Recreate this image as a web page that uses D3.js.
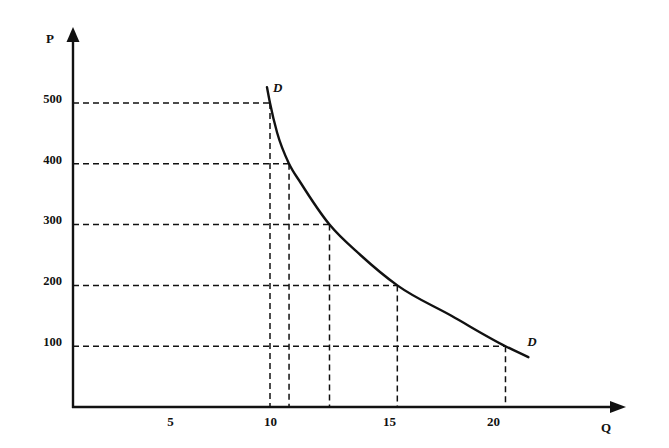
<!DOCTYPE html>
<html>
<head>
<meta charset="utf-8">
<script src="https://cdn.jsdelivr.net/npm/d3@7/dist/d3.min.js"></script>
<style>
  html, body { margin: 0; padding: 0; background: #fff; }
  svg { display: block; }
  .tick text { font-family: "Liberation Serif", "DejaVu Serif", serif; font-weight: bold; }
</style>
</head>
<body>
<script>
// ---- data ----
const xTickValues = [5, 10, 15, 20];
const yTickValues = [100, 200, 300, 400, 500];
// demand curve D (Q, P)
const curveQ = [9.85, 10.0, 10.3, 10.8, 11.3, 12.5, 13.8, 15.4, 18.0, 20.6, 21.7];
const curveP = [526, 500, 451, 400, 368, 300, 250, 200, 150, 100, 82];
// marked points on the curve (dashed guides)
const markQ = [10.0, 10.8, 12.5, 15.4, 20.6];
const markP = [500, 400, 300, 200, 100];
const xAxisLabel = "Q";
const yAxisLabel = "P";
const curveLabel = "D";

// ---- layout ----
const W = 669, H = 448;
const svg = d3.select("body").append("svg").attr("width", W).attr("height", H);

// hand-drawn axis: tick spacing is not uniform, so use a piecewise scale
const x = d3.scaleLinear().domain([0, 5, 10, 15, 20]).range([73, 170, 270, 389, 493]);
const y = d3.scaleLinear().domain([0, 500]).range([407, 103]);

const ink = "#111";

// dashed guide lines
const g = svg.append("g");
markQ.forEach((q, i) => {
  const p = markP[i];
  g.append("line")
    .attr("x1", x(0)).attr("x2", x(q))
    .attr("y1", y(p)).attr("y2", y(p))
    .attr("stroke", ink).attr("stroke-width", 1.5).attr("stroke-dasharray", "6,4");
  g.append("line")
    .attr("x1", x(q)).attr("x2", x(q))
    .attr("y1", y(p)).attr("y2", y(0))
    .attr("stroke", ink).attr("stroke-width", 1.5).attr("stroke-dasharray", "6,4");
});

// axes (labels only, lines drawn below with arrows)
const yAxis = d3.axisLeft(y).tickValues(yTickValues).tickSize(0).tickPadding(11);
const yg = svg.append("g").attr("transform", `translate(${x(0)},0)`).call(yAxis);
yg.select(".domain").remove();
yg.selectAll(".tick text").attr("font-size", 12.5).attr("dy", "-0.05em").attr("fill", ink);

const xAxis = d3.axisBottom(x).tickValues(xTickValues).tickSize(0).tickPadding(10);
const xg = svg.append("g").attr("transform", `translate(0,${y(0)})`).call(xAxis);
xg.select(".domain").remove();
xg.selectAll(".tick text").attr("font-size", 13).attr("fill", ink);

// axis lines
svg.append("line").attr("x1", x(0)).attr("x2", x(0)).attr("y1", y(0) + 1).attr("y2", 38)
  .attr("stroke", ink).attr("stroke-width", 2.4);
svg.append("line").attr("x1", x(0) - 1).attr("x2", 612).attr("y1", y(0)).attr("y2", y(0))
  .attr("stroke", ink).attr("stroke-width", 2.4);
// arrowheads
svg.append("path").attr("d", `M${x(0)},27 L${x(0) - 6.5},42 L${x(0) + 6.5},42 Z`).attr("fill", ink);
svg.append("path").attr("d", `M626,${y(0)} L610,${y(0) - 6} L610,${y(0) + 6} Z`).attr("fill", ink);

// axis names
const serif = "'Liberation Serif', 'DejaVu Serif', serif";
svg.append("text").attr("x", 50).attr("y", 43).attr("text-anchor", "middle")
  .attr("font-family", serif).attr("font-weight", "bold").attr("font-size", 13).attr("fill", ink)
  .text(yAxisLabel);
svg.append("text").attr("x", 606).attr("y", 432).attr("text-anchor", "middle")
  .attr("font-family", serif).attr("font-weight", "bold").attr("font-size", 13).attr("fill", ink)
  .text(xAxisLabel);

// demand curve
const pts = curveQ.map((q, i) => [q, curveP[i]]);
const line = d3.line().x(d => x(d[0])).y(d => y(d[1])).curve(d3.curveMonotoneX);
svg.append("path").datum(pts).attr("d", line)
  .attr("fill", "none").attr("stroke", ink).attr("stroke-width", 2.4).attr("stroke-linecap", "round");

// curve labels
const first = pts[0], last = pts[pts.length - 1];
svg.append("text").attr("x", x(first[0]) + 6).attr("y", y(first[1]) + 5)
  .attr("font-family", serif).attr("font-weight", "bold").attr("font-style", "italic")
  .attr("font-size", 13).attr("fill", ink).text(curveLabel);
svg.append("text").attr("x", x(last[0]) - 1).attr("y", y(last[1]) - 11)
  .attr("font-family", serif).attr("font-weight", "bold").attr("font-style", "italic")
  .attr("font-size", 13).attr("fill", ink).text(curveLabel);
</script>
</body>
</html>
